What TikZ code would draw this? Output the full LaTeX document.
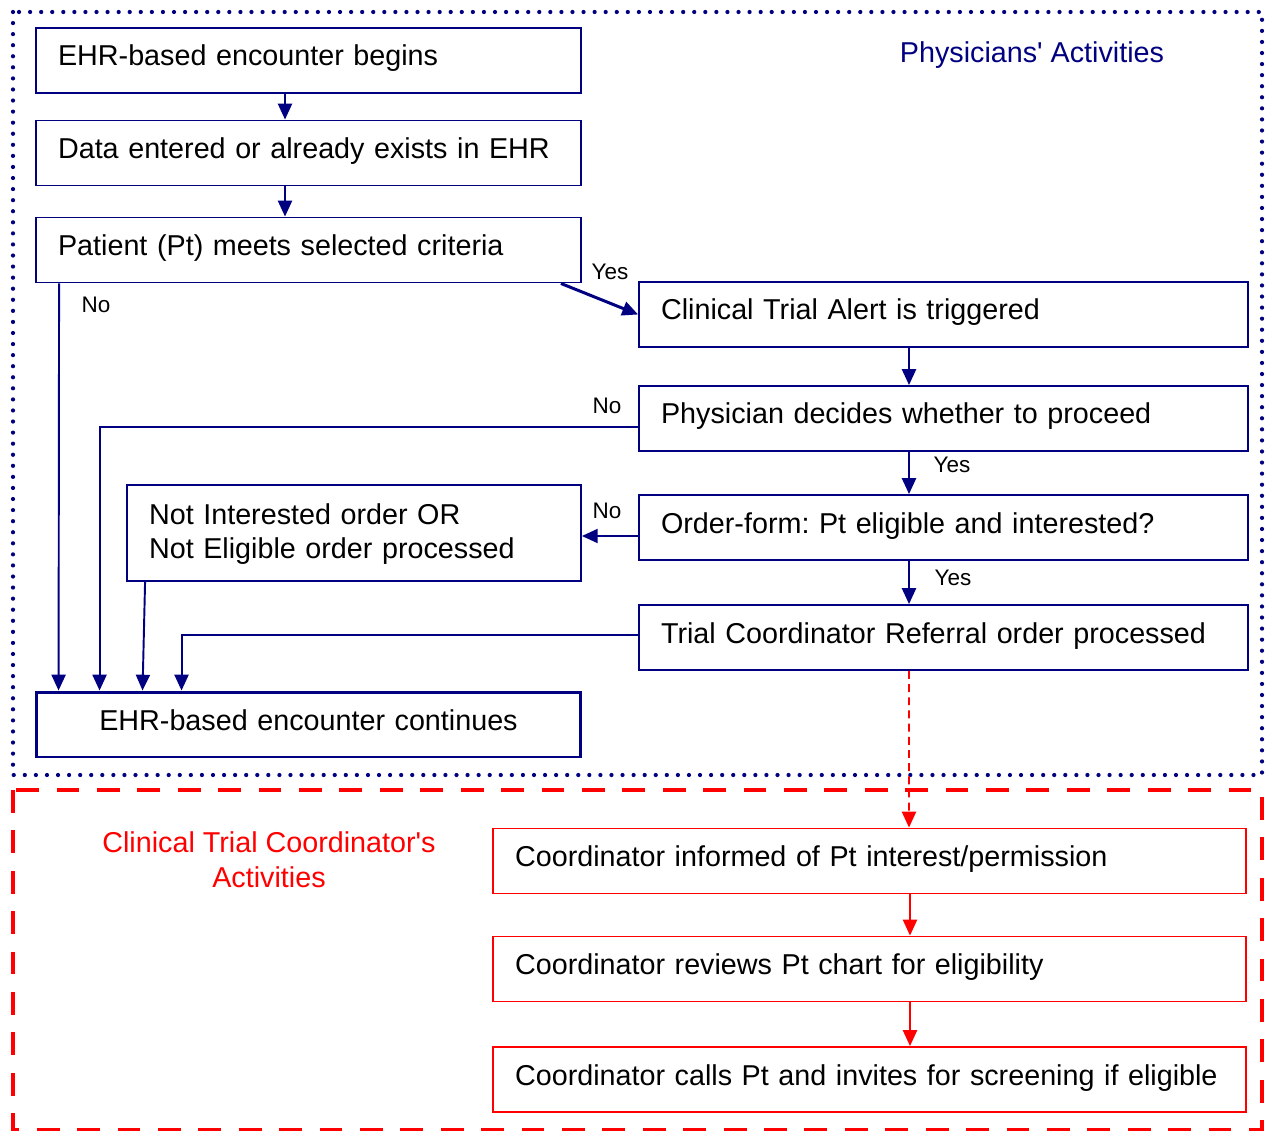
\documentclass[tikz,border=0pt]{standalone}
\usepackage{fontspec}
\setmainfont{Liberation Sans}[Ligatures=TeXOff]
\usetikzlibrary{arrows.meta}
\definecolor{navyline}{RGB}{0,0,128}
\definecolor{trialred}{RGB}{255,0,0}
\newcommand{\boxfont}{\fontsize{16.35}{19.9}\selectfont\frenchspacing}
\newcommand{\lblfont}{\fontsize{12.8}{15}\selectfont}
\tikzset{
  pbox/.style={draw=navyline, line width=1.1pt, minimum height=1.3cm, inner xsep=0.44cm,
    inner ysep=0pt, align=left, text height=0.42cm, text depth=0.2cm, font=\boxfont},
  cbox/.style={pbox, draw=trialred},
  arr/.style={navyline, line width=1.1pt, -{Triangle[length=9pt,width=8pt]}},
  redarr/.style={arr, trialred},
  lbl/.style={font=\lblfont, inner sep=0pt},
}

\begin{document}
\begin{tikzpicture}[x=0.02cm, y=-0.02cm]
  \useasboundingbox (0,0) rectangle (1273,1131);
  % frames
  \draw[navyline, line width=2.4pt, line cap=round, dash pattern=on 0pt off 6.3pt] (13,12) rectangle (1262,775);
  \draw[trialred, line width=2.4pt, dash pattern=on 13pt off 10pt] (13,790) rectangle (1262,1130);
  \node[navyline, font=\boxfont] (phys) at (1032,55) {Physicians' Activities};
  \node[trialred, font=\boxfont, align=center] (coord) at (269,860) {Clinical Trial Coordinator's\\Activities};

  % physician boxes
  \node[pbox, text width=10.02cm] (begin) at (308.5,60.5) {EHR-based encounter begins};
  \node[pbox, text width=10.02cm] (data) at (308.5,153) {Data entered or already exists in EHR};
  \node[pbox, text width=10.02cm] (meets) at (308.5,250) {Patient (Pt) meets selected criteria};
  \node[pbox, text width=11.3cm] (alert) at (943.5,314.5) {Clinical Trial Alert is triggered};
  \node[pbox, text width=11.3cm] (decide) at (943.5,418.5) {Physician decides whether to proceed};
  \node[pbox, text width=11.3cm] (order) at (943.5,527.5) {Order-form: Pt eligible and interested?};
  \node[pbox, text width=11.3cm] (refer) at (943.5,637.5) {Trial Coordinator Referral order processed};
  \node[pbox, text width=8.2cm, minimum height=1.92cm, text depth=0.78cm] (notint) at (354,533)
    {Not Interested order OR\\Not Eligible order processed};
  \node[pbox, line width=1.7pt, text width=10.02cm, align=center] (cont) at (308.5,724.5) {EHR-based encounter continues};

  % coordinator boxes
  \node[cbox, text width=14.18cm] (inform) at (869.5,861) {Coordinator informed of Pt interest/permission};
  \node[cbox, text width=14.18cm] (review) at (869.5,969) {Coordinator reviews Pt chart for eligibility};
  \node[cbox, text width=14.18cm] (calls) at (869.5,1079.5) {Coordinator calls Pt and invites for screening if eligible};

  % arrows
  \draw[arr] ([xshift=-0.47cm]begin.south) -- ([xshift=-0.47cm]data.north);
  \draw[arr] ([xshift=-0.47cm]data.south) -- ([xshift=-0.47cm]meets.north);
  \draw[arr, line width=1.7pt] ([xshift=-0.42cm]meets.south east) -- (alert.west);
  \draw[arr] ([xshift=0.48cm]meets.south west) -- ([xshift=0.48cm]cont.north west);
  \draw[arr] ([xshift=-0.69cm]alert.south) -- ([xshift=-0.69cm]decide.north);
  \draw[arr] ([yshift=-0.17cm]decide.west) -| ([xshift=1.3cm]cont.north west);
  \draw[arr] ([xshift=-0.69cm]decide.south) -- ([xshift=-0.69cm]order.north);
  \draw[arr] ([yshift=-0.17cm]order.west) -- ([yshift=-0.17cm]order.west -| notint.east);
  \draw[arr] ([xshift=-0.69cm]order.south) -- ([xshift=-0.69cm]refer.north);
  \draw[arr] ([xshift=0.38cm]notint.south west) -- ([xshift=2.16cm]cont.north west);
  \draw[arr] ([yshift=0.05cm]refer.west) -| ([xshift=2.94cm]cont.north west);
  \draw[redarr, dash pattern=on 4.5pt off 3pt] ([xshift=-0.69cm]refer.south) -- ([xshift=0.79cm]inform.north);
  \draw[redarr] ([xshift=0.81cm]inform.south) -- ([xshift=0.81cm]review.north);
  \draw[redarr] ([xshift=0.81cm]review.south) -- ([xshift=0.81cm]calls.north);

  % labels
  \node[lbl] (yes1) at (610,272) {Yes};
  \node[lbl] (no1) at (96,305) {No};
  \node[lbl] (no2) at (607,406) {No};
  \node[lbl] (yes2) at (952,465) {Yes};
  \node[lbl] (no3) at (607,511) {No};
  \node[lbl] (yes3) at (953,578) {Yes};
\end{tikzpicture}
\end{document}
